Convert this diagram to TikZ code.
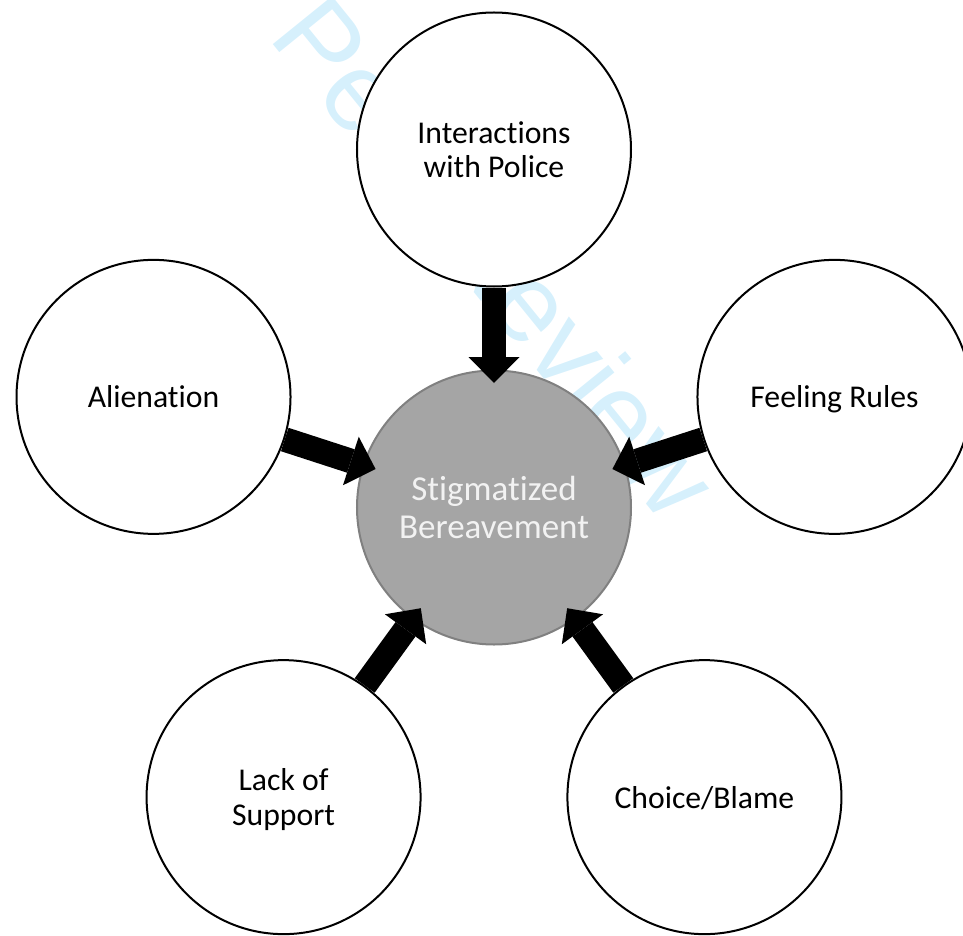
\documentclass[tikz,border=0pt]{standalone}
\usepackage{fontspec}
\setmainfont{Carlito}[Ligatures=NoCommon]
\newfontfamily\markfont{Liberation Sans}
\usetikzlibrary{arrows.meta}
\definecolor{stigmagray}{RGB}{165,165,165}
\definecolor{rimgray}{RGB}{128,128,128}
\definecolor{reviewblue}{RGB}{214,240,252}
\definecolor{softwhite}{RGB}{242,242,242}

\begin{document}
\begin{tikzpicture}[x=1pt, y=1pt,
    factor/.style={circle, draw=black, line width=2pt, fill=white, minimum size=274pt,
        inner sep=0pt, align=center, text depth=0pt, font=\fontsize{31.7}{34.5}\selectfont},
    core/.style={factor, draw=rimgray, fill=stigmagray, text=softwhite,
        font=\fontsize{35}{38.6}\selectfont},
    push/.style={line width=24.6pt, -{Triangle[width=51pt, length=26pt, line width=0pt]},
        shorten >=-13.5pt}]
    \useasboundingbox (-494,-427.5) rectangle (469,507.5);

    % Watermark behind everything
    \node[reviewblue, rotate=-51, anchor=base west, inner sep=0pt,
        font=\markfont\fontsize{111}{111}\selectfont] (mark) at (-350.7,623.7) {For Peer Review};

    % Centre and the five factors around it
    \node[core] (stigma) at (0,0) {Stigmatized\\Bereavement};
    \node[factor] (police) at (90:358) {Interactions\\with Police};
    \node[factor] (alienation) at (162:358) {Alienation};
    \node[factor] (rules) at (18:358) {Feeling Rules};
    \node[factor] (support) at (234:358) {Lack of\\Support};
    \node[factor] (blame) at (306:358) {Choice/Blame};

    % Arrows into the centre
    \foreach \f in {police, alienation, rules, support, blame}
        \draw[push] (\f) -- (stigma);
\end{tikzpicture}
\end{document}
